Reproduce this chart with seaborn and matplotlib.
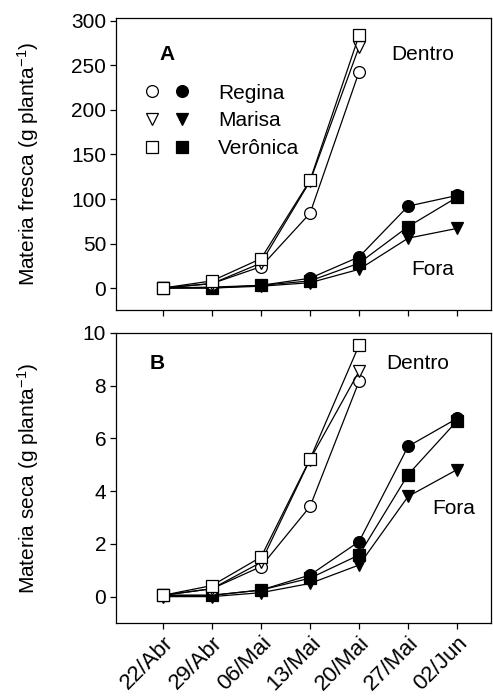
import matplotlib
matplotlib.use("Agg")
import matplotlib.pyplot as plt
import seaborn as sns
import numpy as np
import pandas as pd
from matplotlib.legend_handler import HandlerTuple
from matplotlib.lines import Line2D

dates = ["22/Abr", "29/Abr", "06/Mai", "13/Mai", "20/Mai", "27/Mai", "02/Jun"]

# Panel A: Materia fresca (g planta-1)
a_dentro_regina = [0, 5, 24, 84, 243]
a_dentro_marisa = [0, 5, 28, 120, 271]
a_dentro_veronica = [0, 8, 33, 121, 284]
a_fora_regina = [0, 1, 3, 11, 35, 92, 104]
a_fora_marisa = [0, 0, 2, 6, 21, 56, 67]
a_fora_veronica = [0, 0, 3, 8, 28, 69, 102]

# Panel B: Materia seca (g planta-1)
b_dentro_regina = [0.05, 0.3, 1.14, 3.42, 8.17]
b_dentro_marisa = [0.05, 0.3, 1.3, 5.2, 8.55]
b_dentro_veronica = [0.05, 0.42, 1.5, 5.22, 9.54]
b_fora_regina = [0.05, 0.05, 0.25, 0.82, 2.09, 5.70, 6.76]
b_fora_marisa = [0.0, 0.0, 0.15, 0.5, 1.2, 3.8, 4.82]
b_fora_veronica = [0.05, 0.05, 0.25, 0.7, 1.58, 4.63, 6.67]

cultivars = ["Regina", "Marisa", "Verônica"]
markers = {"Regina": "o", "Marisa": "v", "Verônica": "s"}

sns.set_theme(style="white")
plt.rcParams['font.family'] = ['Liberation Sans', 'DejaVu Sans']
plt.rcParams['mathtext.fontset'] = 'custom'
plt.rcParams['mathtext.rm'] = 'Liberation Sans'
plt.rcParams['mathtext.it'] = 'Liberation Sans'
for k in ('text.color', 'axes.labelcolor', 'xtick.color', 'ytick.color', 'axes.edgecolor'):
    plt.rcParams[k] = 'black'

fig = plt.figure(figsize=(4.93, 6.96), dpi=100)
axA = fig.add_axes([0.235, 0.5546, 0.761, 0.4196])
axB = fig.add_axes([0.235, 0.1049, 0.761, 0.4167])

def draw(ax, dentro, fora):
    for cv, vals in zip(cultivars, fora):
        x = np.arange(len(vals))
        sns.lineplot(x=x, y=vals, ax=ax, color="black", lw=0.9, marker=markers[cv],
                     markersize=8.5, markerfacecolor="black", markeredgecolor="black",
                     markeredgewidth=0.9, zorder=3)
    for cv, vals in zip(cultivars, dentro):
        x = np.arange(len(vals))
        sns.lineplot(x=x, y=vals, ax=ax, color="black", lw=0.9, marker=markers[cv],
                     markersize=8.5, markerfacecolor="white", markeredgecolor="black",
                     markeredgewidth=0.9, zorder=4)

draw(axA, [a_dentro_regina, a_dentro_marisa, a_dentro_veronica],
     [a_fora_regina, a_fora_marisa, a_fora_veronica])
draw(axB, [b_dentro_regina, b_dentro_marisa, b_dentro_veronica],
     [b_fora_regina, b_fora_marisa, b_fora_veronica])

for ax in (axA, axB):
    ax.set_xlim(-0.96, 6.69)
    ax.set_xticks(range(len(dates)))
    for s in ax.spines.values():
        s.set_color("black")
        s.set_linewidth(0.9)
    ax.tick_params(axis="both", direction="out", length=4, width=0.9, color="black",
                   labelsize=15, bottom=True, left=True, pad=3)
    ax.set_xlabel("")

axA.set_ylim(-24.7, 303.4)
axA.set_yticks([0, 50, 100, 150, 200, 250, 300])
axA.set_xticklabels([])
axB.set_ylim(-1.0, 10.0)
axB.set_yticks([0, 2, 4, 6, 8, 10])
axB.set_xticklabels(dates, rotation=45, ha="right", rotation_mode="anchor", fontsize=16)

axA.set_ylabel("Materia fresca (g planta$^{-1}$)", fontsize=15)
axB.set_ylabel("Materia seca (g planta$^{-1}$)", fontsize=15)
for ax in (axA, axB):
    ax.yaxis.set_label_coords(-0.20, 0.5)

axA.text(0.136, 0.875, "A", transform=axA.transAxes, fontsize=15, fontweight="bold",
         ha="center", va="center")
axA.text(0.818, 0.875, "Dentro", transform=axA.transAxes, fontsize=15, ha="center", va="center")
axA.text(0.845, 0.14, "Fora", transform=axA.transAxes, fontsize=15, ha="center", va="center")
axB.text(0.11, 0.895, "B", transform=axB.transAxes, fontsize=15, fontweight="bold",
         ha="center", va="center")
axB.text(0.805, 0.895, "Dentro", transform=axB.transAxes, fontsize=15, ha="center", va="center")
axB.text(0.90, 0.395, "Fora", transform=axB.transAxes, fontsize=15, ha="center", va="center")

hs = []
for cv in cultivars:
    o = Line2D([], [], ls="none", marker=markers[cv], markersize=8.5,
               markerfacecolor="white", markeredgecolor="black", markeredgewidth=0.9)
    f = Line2D([], [], ls="none", marker=markers[cv], markersize=8.5,
               markerfacecolor="black", markeredgecolor="black", markeredgewidth=0.9)
    hs.append((o, f))
axA.legend(hs, cultivars, handler_map={tuple: HandlerTuple(ndivide=None, pad=0)},
           loc="upper left", bbox_to_anchor=(0.056, 0.775), frameon=False,
           fontsize=15, handlelength=2.9, handletextpad=1.0, labelspacing=0.42,
           borderpad=0, borderaxespad=0)

fig.savefig("out.png", dpi=100)
